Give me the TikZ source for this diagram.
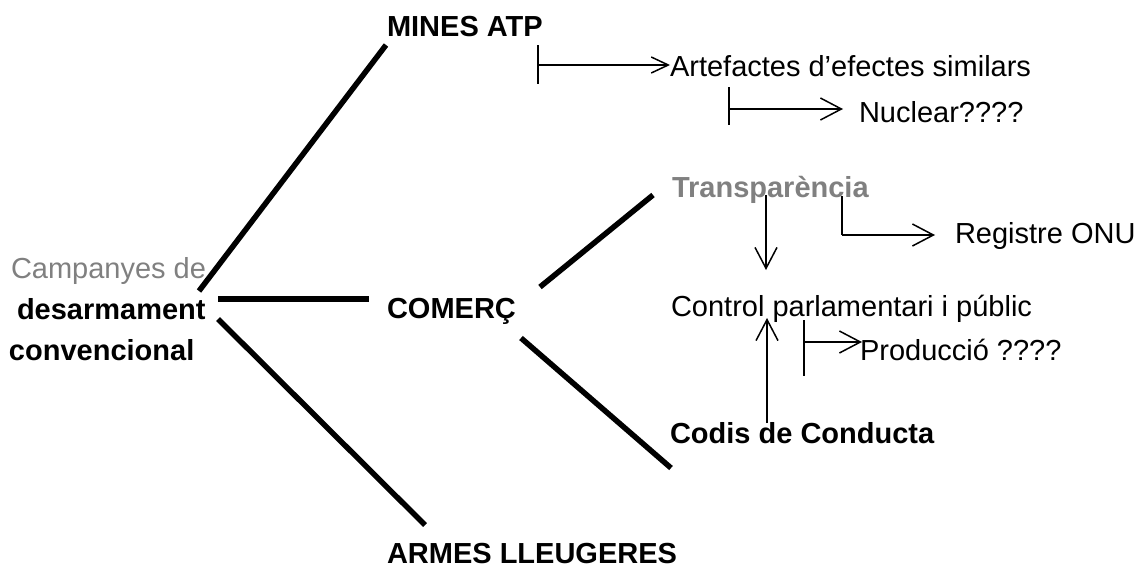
\documentclass[tikz,border=0pt]{standalone}
\usepackage{fontspec}
\setmainfont{Liberation Sans}
\usetikzlibrary{arrows.meta}
\definecolor{greytxt}{HTML}{808080}
\tikzset{
  lbl/.style={anchor=base west, inner sep=0pt, outer sep=0pt, font=\fontsize{29}{34}\selectfont},
  blbl/.style={lbl, font=\fontsize{29}{34}\selectfont\bfseries},
  thick line/.style={line width=5.5pt, line cap=butt},
  thin line/.style={line width=1.5pt},
  arr/.style={thin line, -{Straight Barb[length=21pt, width=22pt, line width=1.5pt]}},
  arrsmall/.style={thin line, -{Straight Barb[length=17pt, width=16pt, line width=1.5pt]}},
}
\begin{document}
\begin{tikzpicture}[x=1pt, y=-1pt]
\useasboundingbox (0,0) rectangle (1145,568);
% texts
\node[blbl] (mines) at (387,36) {MINES ATP};
\node[lbl] (artef) at (670,76) {Artefactes d’efectes similars};
\node[lbl] (nucl) at (859,122) {Nuclear????};
\node[blbl, text=greytxt] (transp) at (672,197) {Transparència};
\node[lbl] (regis) at (955,243) {Registre ONU};
\node[lbl, text=greytxt] (camp) at (11,278) {Campanyes de};
\node[blbl] (desar) at (17,319) {desarmament};
\node[blbl] (conv) at (9,360) {convencional};
\node[blbl] (comerc) at (387,318) {COMERÇ};
\node[lbl] (control) at (671,316) {Control parlamentari i públic};
\node[lbl] (prod) at (860,360) {Producció ????};
\node[blbl] (codis) at (670,443) {Codis de Conducta};
\node[blbl] (armes) at (387,563) {ARMES LLEUGERES};
% coordinates for thick lines
\coordinate (hubA) at (199,291);
\coordinate (minesE) at (386,45);
\coordinate (hubB) at (218,299);
\coordinate (comercW) at (369,299);
\coordinate (hubC) at (218,319);
\coordinate (armesE) at (425,525);
\coordinate (comNE) at (540,287);
\coordinate (transpW) at (653,195);
\coordinate (comSE) at (521,338);
\coordinate (codisW) at (671,468);
\draw[thick line] (hubA) -- (minesE);
\draw[thick line] (hubB) -- (comercW);
\draw[thick line] (hubC) -- (armesE);
\draw[thick line] (comNE) -- (transpW);
\draw[thick line] (comSE) -- (codisW);
% thin arrows
\coordinate (t1a) at (538,45); \coordinate (t1b) at (538,84); \coordinate (t1m) at (538,65);
\draw[thin line] (t1a) -- (t1b);
\draw[arrsmall] (t1m) -- (artef.west |- t1m);
\coordinate (t2a) at (729,87); \coordinate (t2b) at (729,125); \coordinate (t2m) at (729,109);
\coordinate (t2e) at (843,109);
\draw[thin line] (t2a) -- (t2b);
\draw[arr] (t2m) -- (t2e);
\coordinate (dA) at (766,195); \coordinate (dB) at (766,270);
\draw[arr] (dA) -- (dB);
\coordinate (t4a) at (842,196); \coordinate (t4m) at (842,235); \coordinate (t4e) at (935,235);
\draw[thin line] (t4a) -- (t4m);
\draw[arr] (t4m) -- (t4e);
\coordinate (uA) at (767,423); \coordinate (uB) at (767,318);
\draw[arr] (uA) -- (uB);
\coordinate (t6a) at (804,320); \coordinate (t6b) at (804,376); \coordinate (t6m) at (804,342);
\coordinate (t6e) at (862,342);
\draw[thin line] (t6a) -- (t6b);
\draw[arr] (t6m) -- (t6e);
\end{tikzpicture}
\end{document}
